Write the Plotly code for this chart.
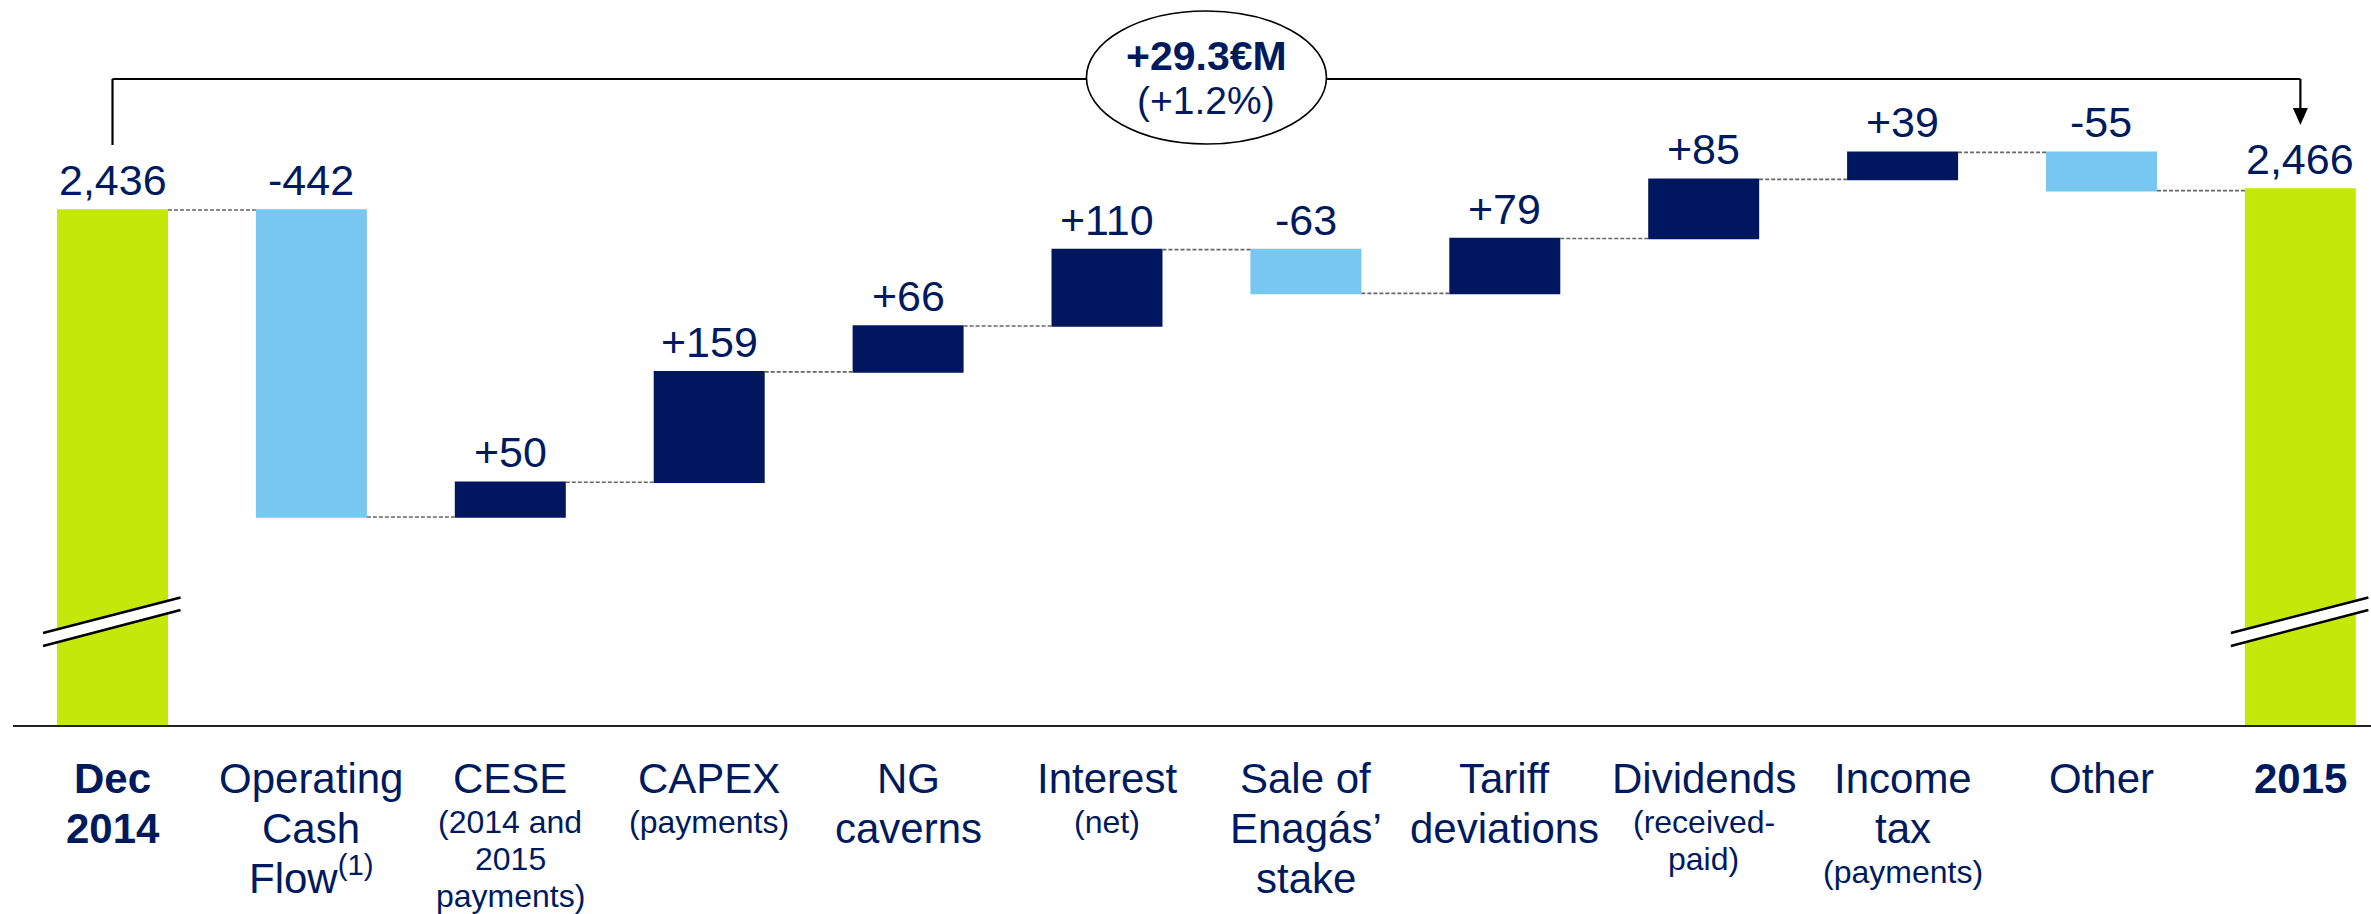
import plotly.graph_objects as go

# ---------------- data ----------------
categories = ["Dec 2014", "Operating Cash Flow", "CESE", "CAPEX", "NG caverns", "Interest",
              "Sale of Enagás’ stake", "Tariff deviations", "Dividends", "Income tax", "Other", "2015"]
measures = ["absolute"] + ["relative"] * 10 + ["absolute"]
values = [2436, -442, 50, 159, 66, 110, -63, 79, 85, 39, -55, 2466]
value_labels = ["2,436", "-442", "+50", "+159", "+66", "+110", "-63", "+79", "+85", "+39", "-55", "2,466"]
change_main = "+29.3€M"
change_pct = "(+1.2%)"

# category label lines: (text, kind) kind: M = main, S = sub (smaller), B = bold main
cat_lines = [
    [("Dec", "B"), ("2014", "B")],
    [("Operating", "M"), ("Cash", "M"), ("Flow<sup>(1)</sup>", "M")],
    [("CESE", "M"), ("(2014 and", "S"), ("2015", "S"), ("payments)", "S")],
    [("CAPEX", "M"), ("(payments)", "S")],
    [("NG", "M"), ("caverns", "M")],
    [("Interest", "M"), ("(net)", "S")],
    [("Sale of", "M"), ("Enagás’", "M"), ("stake", "M")],
    [("Tariff", "M"), ("deviations", "M")],
    [("Dividends", "M"), ("(received-", "S"), ("paid)", "S")],
    [("Income", "M"), ("tax", "M"), ("(payments)", "S")],
    [("Other", "M")],
    [("2015", "B")],
]

# ---------------- style ----------------
NAVY = "#00175F"
TEXT = "#001A5E"
LBLUE = "#77C7F1"
LIME = "#C5E80B"
FONT = "Liberation Sans, Arial, sans-serif"

W, H = 2371, 914
ML, MR, MT, MB = 13, 0, 0, 189
PLOT_H = H - MT - MB  # 725
X_RANGE = [-0.5003, 11.355]
Y_RANGE = [1694.5, 2738.4]
PX_PER_CAT = (W - ML - MR) / (X_RANGE[1] - X_RANGE[0])


def yp(py):
    """pixel y (from top) -> paper y"""
    return (MT + PLOT_H - py) / PLOT_H


def dx(px):
    return px / PX_PER_CAT


def anchor_bottom(baseline_px, size):
    return yp(baseline_px + 2 + 0.212 * size)


x_idx = list(range(len(categories)))

fig = go.Figure(go.Waterfall(
    x=x_idx, y=values, measure=measures, width=0.558,
    increasing=dict(marker=dict(color=NAVY, line=dict(width=0))),
    decreasing=dict(marker=dict(color=LBLUE, line=dict(width=0))),
    totals=dict(marker=dict(color=LIME, line=dict(width=0))),
    connector=dict(mode="between", line=dict(color="#666666", width=1.7, dash="4px,2px")),
    textinfo="none", hoverinfo="skip", showlegend=False,
))

# top of each bar (for value labels)
tops = []
level = 0
for m, v in zip(measures, values):
    if m == "absolute":
        tops.append(v)
        level = v
    else:
        tops.append(max(level, level + v))
        level += v

annotations = []
for i, (t, lab) in enumerate(zip(tops, value_labels)):
    annotations.append(dict(x=i, y=t, xref="x", yref="y", text=lab, showarrow=False,
                            yanchor="bottom", xanchor="center", yshift=4,
                            font=dict(family=FONT, size=43, color=TEXT)))

# category labels, one annotation per line
MAIN, SUB = 42, 32
for i, lines in enumerate(cat_lines):
    b = 793
    prev = None
    for j, (txt, kind) in enumerate(lines):
        if j > 0:
            if kind == "S":
                b += 40 if prev != "S" else 37
            else:
                b += 50
        size = SUB if kind == "S" else MAIN
        text = f"<b>{txt}</b>" if kind == "B" else txt
        annotations.append(dict(x=i, y=anchor_bottom(b, size), xref="x", yref="paper",
                                text=text, showarrow=False, yanchor="bottom", xanchor="center",
                                font=dict(family=FONT, size=size, color=TEXT)))
        prev = kind

# change bubble text
xc = (x_idx[0] + x_idx[-1]) / 2
annotations.append(dict(x=xc, y=anchor_bottom(70.7, 41), xref="x", yref="paper",
                        text=f"<b>{change_main}</b>", showarrow=False, yanchor="bottom",
                        font=dict(family=FONT, size=41, color=TEXT)))
annotations.append(dict(x=xc, y=anchor_bottom(114, 39), xref="x", yref="paper",
                        text=change_pct, showarrow=False, yanchor="bottom",
                        font=dict(family=FONT, size=39, color=TEXT)))

shapes = []
BLK = dict(color="black", width=2.2)
x0, x1 = x_idx[0], x_idx[-1]
# bracket
shapes.append(dict(type="line", xref="x", yref="paper", x0=x0, x1=x0, y0=yp(145), y1=yp(79), line=BLK))
shapes.append(dict(type="line", xref="x", yref="paper", x0=x0, x1=x1, y0=yp(79), y1=yp(79), line=BLK))
shapes.append(dict(type="line", xref="x", yref="paper", x0=x1, x1=x1, y0=yp(79), y1=yp(110), line=BLK))
shapes.append(dict(type="path", xref="x", yref="paper",
                   path=f"M {x1 - dx(7.5)},{yp(108)} L {x1 + dx(7.5)},{yp(108)} L {x1},{yp(125)} Z",
                   fillcolor="black", line=dict(width=0)))
# ellipse
shapes.append(dict(type="circle", xref="x", yref="paper", x0=xc - dx(120), x1=xc + dx(120),
                   y0=yp(144), y1=yp(11), fillcolor="white", line=dict(color="black", width=1.6)))

# axis breaks on the two total bars
for xi in (x0, x1):
    xl, xr = xi - dx(69.5), xi + dx(68)
    shapes.append(dict(type="path", xref="x", yref="paper",
                       path=f"M {xl},{yp(633)} L {xr},{yp(597.5)} L {xr},{yp(610)} L {xl},{yp(646)} Z",
                       fillcolor="white", line=dict(width=0)))
    shapes.append(dict(type="line", xref="x", yref="paper", x0=xl, x1=xr, y0=yp(633), y1=yp(597.5),
                       line=dict(color="black", width=2.4)))
    shapes.append(dict(type="line", xref="x", yref="paper", x0=xl, x1=xr, y0=yp(646), y1=yp(610),
                       line=dict(color="black", width=2.4)))

fig.update_layout(
    width=W, height=H,
    margin=dict(l=ML, r=MR, t=MT, b=MB, pad=0),
    paper_bgcolor="white", plot_bgcolor="white",
    xaxis=dict(range=X_RANGE, showline=True, linecolor="#222222", linewidth=2,
               showticklabels=False, showgrid=False, zeroline=False, ticks=""),
    yaxis=dict(range=Y_RANGE, visible=False, showgrid=False, zeroline=False),
    annotations=annotations, shapes=shapes,
    font=dict(family=FONT, color=TEXT),
)

fig.write_html("out.html", config={"displayModeBar": False},
               post_script="document.body.style.margin='0';document.body.style.overflow='hidden';")
